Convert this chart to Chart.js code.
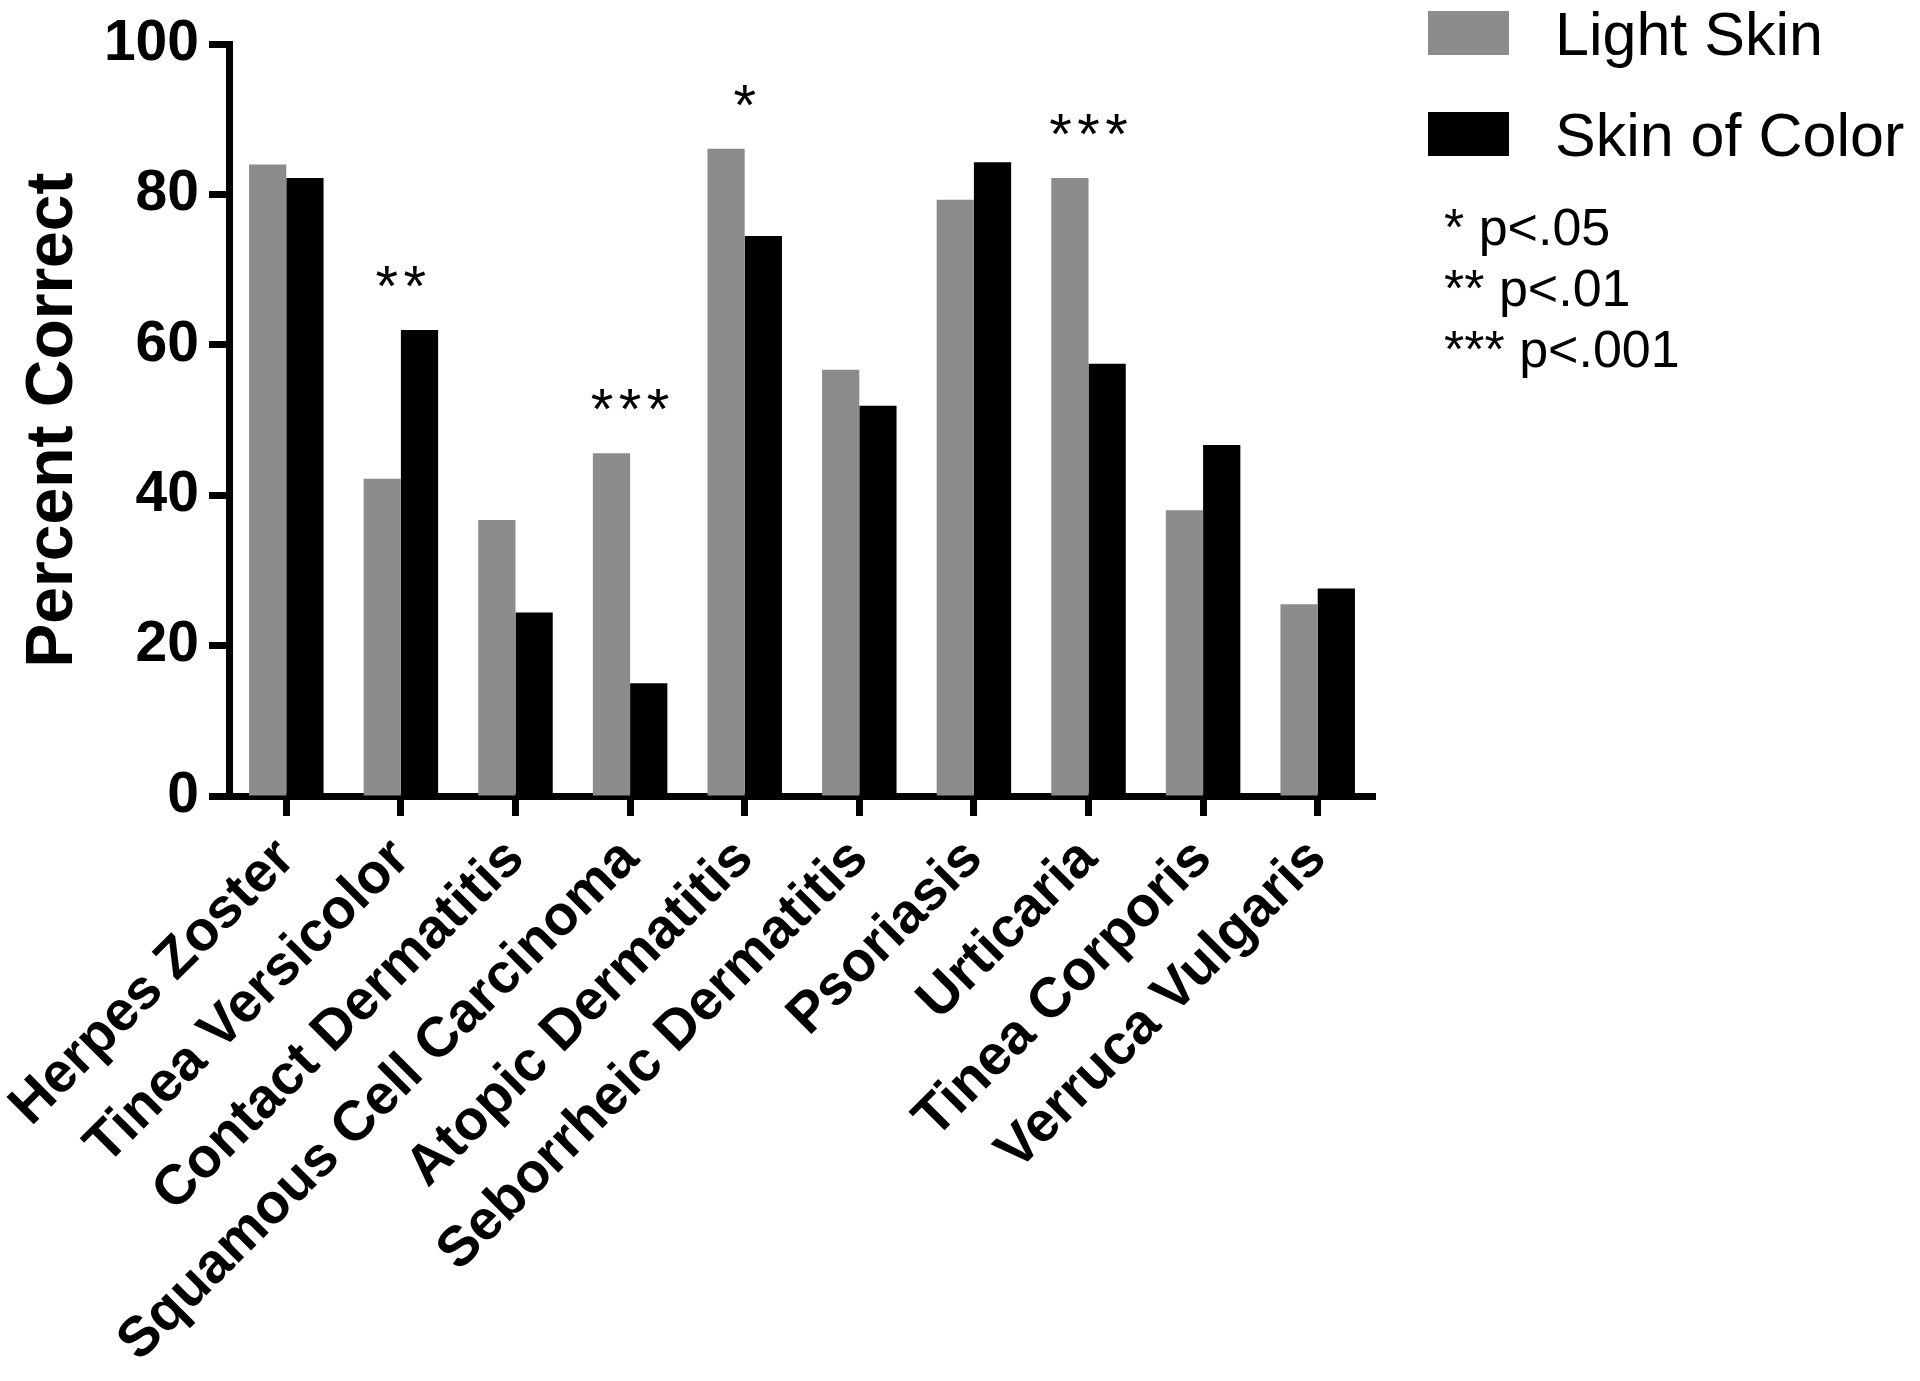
<!DOCTYPE html>
<html>
<head>
<meta charset="utf-8">
<script src="https://cdn.jsdelivr.net/npm/chart.js@4.4.1/dist/chart.umd.min.js"></script>
<style>
  html, body { margin: 0; padding: 0; background: #fff; }
  #wrap { width: 1920px; height: 1381px; }
</style>
</head>
<body>
<div id="wrap"><canvas id="chart" width="1920" height="1381"></canvas></div>
<script>
// Data
const categories = [
  "Herpes Zoster", "Tinea Versicolor", "Contact Dermatitis",
  "Squamous Cell Carcinoma", "Atopic Dermatitis", "Seborrheic Dermatitis",
  "Psoriasis", "Urticaria", "Tinea Corporis", "Verruca Vulgaris"
];
const lightSkin = [84.0, 42.2, 36.7, 45.6, 86.1, 56.7, 79.3, 82.2, 38.0, 25.5];
const skinOfColor = [82.2, 62.0, 24.4, 15.0, 74.5, 51.9, 84.3, 57.5, 46.7, 27.6];
const stars = [0, 2, 0, 3, 1, 0, 0, 3, 0, 0]; // number of asterisks per category
const yTicks = [0, 20, 40, 60, 80, 100];
const pNotes = ["* p<.05", "** p<.01", "*** p<.001"];

const FONT = "'Liberation Sans', Arial, Helvetica, sans-serif";
const GRAY = "#8c8c8c";

// stars above bars + legend and p-value notes on the right
const annotations = {
  id: "annotations",
  afterDatasetsDraw(chart) {
    const ctx = chart.ctx;
    const x = chart.scales.x, y = chart.scales.y;
    ctx.save();
    ctx.fillStyle = "#000";
    ctx.font = "58px " + FONT;
    ctx.textAlign = "center";
    ctx.textBaseline = "alphabetic";
    stars.forEach((n, i) => {
      if (!n) return;
      const cx = x.getPixelForValue(i);
      const top = y.getPixelForValue(Math.max(lightSkin[i], skinOfColor[i]));
      for (let k = 0; k < n; k++) {
        const sx = cx + (k - (n - 1) / 2) * 28;
        ctx.fillText("*", sx, top - 24);
      }
    });

    // legend
    const ds = chart.data.datasets;
    ctx.textAlign = "left";
    ctx.font = "61px " + FONT;
    ds.forEach((d, i) => {
      const by = 11 + i * 101;
      ctx.fillStyle = d.backgroundColor;
      ctx.fillRect(1428, by, 81, 44);
      ctx.fillStyle = "#000";
      ctx.fillText(d.label, 1555, by + 44);
    });

    // p-value notes
    ctx.font = "52px " + FONT;
    pNotes.forEach((t, i) => {
      ctx.fillText(t, 1444, 245 + i * 61);
    });
    ctx.restore();
  }
};

new Chart(document.getElementById("chart"), {
  type: "bar",
  data: {
    labels: categories,
    datasets: [
      { label: "Light Skin", data: lightSkin, backgroundColor: GRAY, borderWidth: 0 },
      { label: "Skin of Color", data: skinOfColor, backgroundColor: "#000", borderWidth: 0 }
    ]
  },
  options: {
    responsive: false,
    animation: false,
    devicePixelRatio: 1,
    layout: { padding: { top: 36, right: 545, left: 0, bottom: 0 } },
    datasets: { bar: { categoryPercentage: 0.65, barPercentage: 1.0 } },
    plugins: { legend: { display: false }, tooltip: { enabled: false } },
    scales: {
      x: {
        offset: true,
        afterFit(scale) {
          scale.height = 585;
          scale.paddingLeft = 0;
          scale.paddingRight = 0;
        },
        border: { display: true, color: "#000", width: 7 },
        grid: {
          offset: false, drawOnChartArea: false, drawTicks: true,
          tickLength: 20, tickWidth: 7, tickColor: "#000", color: "#000"
        },
        ticks: {
          autoSkip: false, minRotation: 45, maxRotation: 45, padding: 10,
          color: "#000", font: { family: FONT, size: 56, weight: "bold" }
        }
      },
      y: {
        min: 0, max: 100,
        afterFit(scale) { scale.width = 229; },
        afterBuildTicks(scale) { scale.ticks = yTicks.map(v => ({ value: v })); },
        border: { display: true, color: "#000", width: 7 },
        grid: {
          drawOnChartArea: false, drawTicks: true,
          tickLength: 20, tickWidth: 7, tickColor: "#000", color: "#000"
        },
        ticks: {
          padding: 10, color: "#000",
          font: { family: FONT, size: 57, weight: "bold" }
        },
        title: {
          display: true, text: "Percent Correct", color: "#000",
          padding: { top: 14, bottom: 0 },
          font: { family: FONT, size: 66, weight: "bold" }
        }
      }
    }
  },
  plugins: [annotations]
});
</script>
</body>
</html>
